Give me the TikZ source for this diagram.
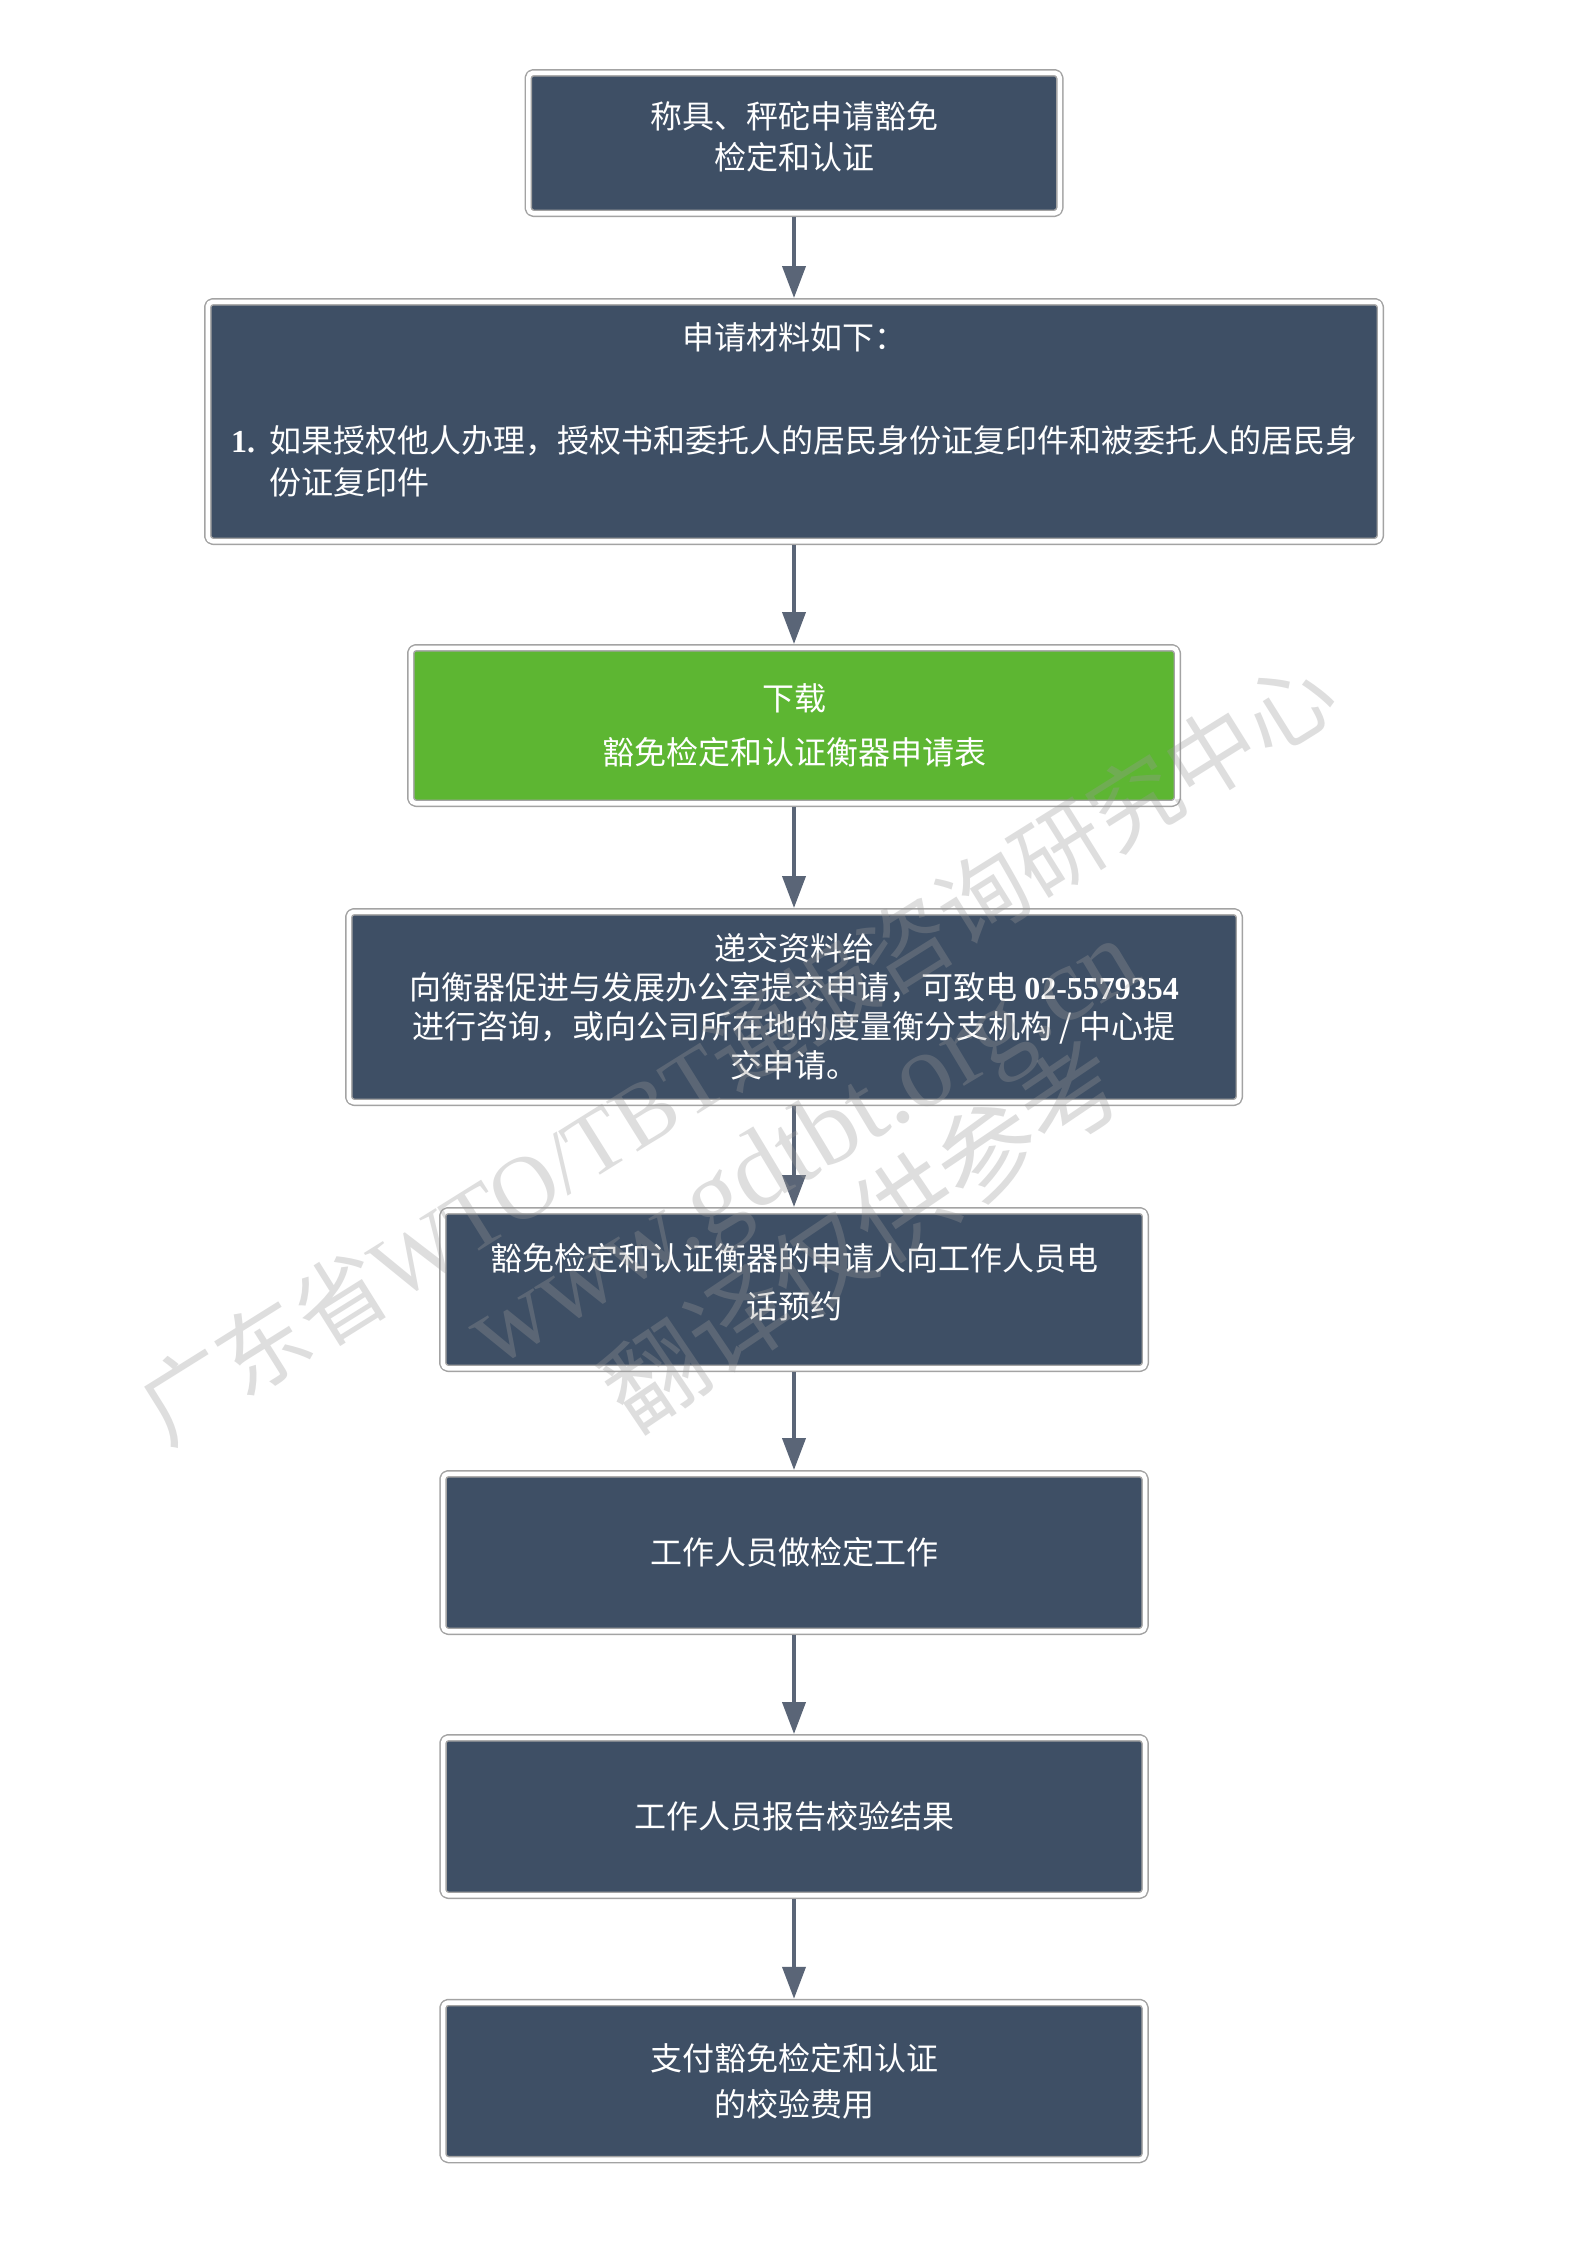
\documentclass[tikz,border=0pt]{standalone}
\usepackage{fontspec}
\setmainfont{Liberation Serif}
\newfontfamily\cjk{Noto Sans CJK SC}
\usetikzlibrary{arrows.meta}
\definecolor{boxblue}{HTML}{3E4F65}
\definecolor{boxgreen}{HTML}{5DB632}
\definecolor{framegray}{HTML}{A3A3A3}
\definecolor{arrowgray}{HTML}{5A6577}
\begin{document}
\begin{tikzpicture}[line join=bevel,
    stepbox/.style={rectangle,fill=boxblue,draw=framegray,double=white,double distance=4.5bp,line width=1.5bp,rounded corners=5bp,inner sep=0pt,outer sep=3.75bp,text=white,align=center,font=\cjk\fontsize{32bp}{42bp}\selectfont},
    greenbox/.style={stepbox,fill=boxgreen},
    steptext/.style={text=white,inner sep=0pt,font=\cjk\fontsize{32bp}{42bp}\selectfont},
    flow/.style={draw=arrowgray,line width=4bp,-{Triangle[length=32bp,width=23bp]}},
    stamp/.style={text=black!40,opacity=0.32,inner sep=0pt},
  ]
    %%
    \fill [white,use as bounding box] (0bp,0bp) rectangle (1587bp,-2245bp);
    \node (weigh) at (794bp,-143bp) [stepbox,minimum width=531.5bp,minimum height=140.5bp] {称具、秤砣申请豁免\\[-1bp]检定和认证\\[-27bp]\mbox{}};
    \node (apply) at (794bp,-421.5bp) [stepbox,minimum width=1172.5bp,minimum height=239.5bp] {};
    \node (applytitle) at (794bp,-337bp) [steptext] {申请材料如下：};
    \node (applyitem) at (231bp,-461bp) [steptext,anchor=west,align=left] {\makebox[38bp][l]{\rmfamily\bfseries 1.}如果授权他人办理，授权书和委托人的居民身份证复印件和被委托人的居民身\\\hspace*{38bp}份证复印件};
    \node (download) at (794bp,-725.5bp) [greenbox,minimum width=766.5bp,minimum height=155.5bp] {下载\\[12bp]豁免检定和认证衡器申请表};
    \node (submit) at (794bp,-1007bp) [stepbox,minimum width=890.5bp,minimum height=190.5bp] {递交资料给\\[-3bp]向衡器促进与发展办公室提交申请，可致电 {\rmfamily\bfseries 02-5579354}\\[-3bp]进行咨询，或向公司所在地的度量衡分支机构 / 中心提\\[-3bp]交申请。};
    \node (booking) at (794bp,-1289.5bp) [stepbox,minimum width=702.5bp,minimum height=157.5bp] {豁免检定和认证衡器的申请人向工作人员电\\[6bp]话预约\\[-24bp]\mbox{}};
    \node (verify) at (794bp,-1552.5bp) [stepbox,minimum width=702bp,minimum height=157.5bp] {工作人员做检定工作};
    \node (report) at (794bp,-1816.5bp) [stepbox,minimum width=702bp,minimum height=157.5bp] {工作人员报告校验结果};
    \node (payment) at (794bp,-2081bp) [stepbox,minimum width=702bp,minimum height=157bp] {支付豁免检定和认证\\[4bp]的校验费用};
    \draw [flow] (weigh) -- (apply);
    \draw [flow] (apply) -- (download);
    \draw [flow] (download) -- (submit);
    \draw [flow] (submit) -- (booking);
    \draw [flow] (booking) -- (verify);
    \draw [flow] (verify) -- (report);
    \draw [flow] (report) -- (payment);
    %
    \node (stamporg) at (737bp,-1050bp) [stamp,rotate=32,font=\cjk\fontsize{90bp}{90bp}\selectfont] {广东省{\rmfamily WTO/TBT}通报咨询研究中心};
    \node (stampweb) at (806bp,-1152bp) [stamp,rotate=31,font=\rmfamily\fontsize{106bp}{106bp}\selectfont] {www.gdtbt.org.cn};
    \node (stampnote) at (862bp,-1235bp) [stamp,rotate=34,font=\cjk\fontsize{100bp}{100bp}\selectfont] {翻译仅供参考};
    %
\end{tikzpicture}
\end{document}
